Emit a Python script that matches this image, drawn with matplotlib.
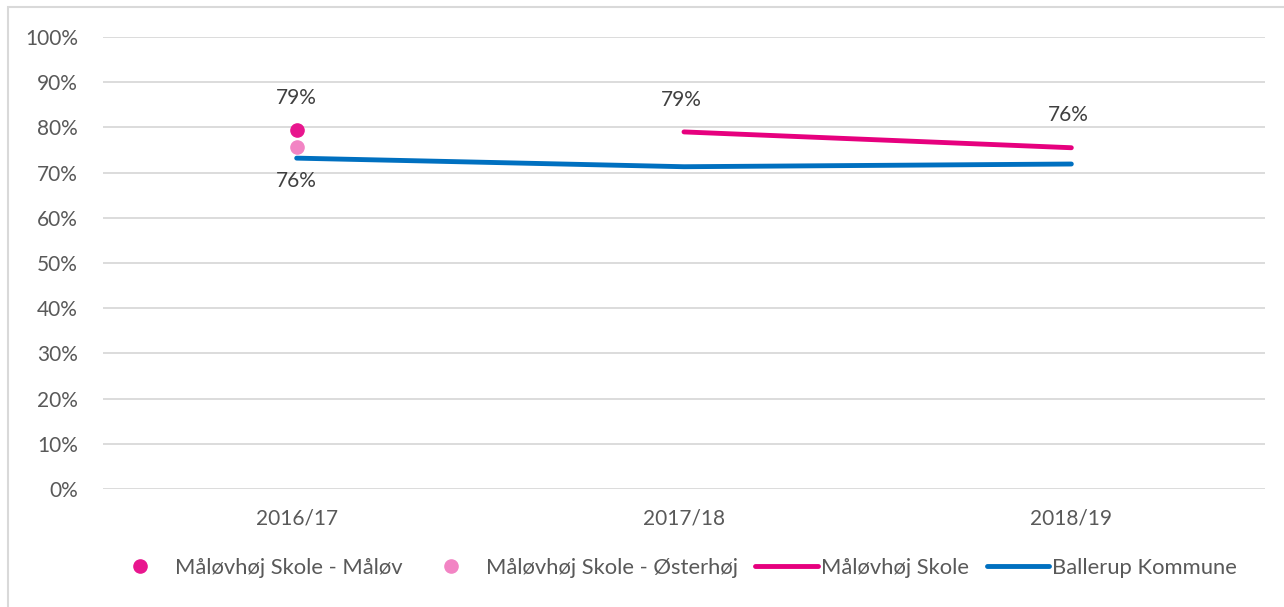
import numpy as np
import matplotlib.pyplot as plt
from matplotlib.lines import Line2D
from matplotlib.patches import Rectangle

plt.rcParams['font.family'] = ['Lato', 'DejaVu Sans']

# data
years = ['2016/17', '2017/18', '2018/19']
maalov = [0.794, np.nan, np.nan]
oesterhoej = [0.757, np.nan, np.nan]
skole = [np.nan, 0.790, 0.755]
ballerup = [0.732, 0.713, 0.719]
yticks = np.arange(0, 1.01, 0.1)

c_maalov = '#E8168E'
c_oester = '#F284C4'
c_skole = '#E6007E'
c_ballerup = '#0070C0'
txt = '#595959'

fig = plt.figure(figsize=(12.84, 6.07), dpi=100)
ax = fig.add_axes([103/1284, (607-489)/607, (1265-103)/1284, (489-37)/607])

x = np.arange(len(years))
ax.plot(x, ballerup, color=c_ballerup, lw=3.5, solid_capstyle='round', zorder=3)
ax.plot(x, skole, color=c_skole, lw=3.5, solid_capstyle='round', zorder=3)
ax.plot(x, oesterhoej, 'o', color=c_oester, ms=9.5, zorder=4)
ax.plot(x, maalov, 'o', color=c_maalov, ms=9.5, zorder=4)

# data labels
lab = dict(ha='center', va='center', fontsize=15, color='#404040',
           textcoords='offset pixels')
ax.annotate(f'{maalov[0]*100:.0f}%', (x[0], maalov[0]), xytext=(0, 32), **lab)
ax.annotate(f'{oesterhoej[0]*100:.0f}%', (x[0], oesterhoej[0]), xytext=(0, -34), **lab)
ax.annotate(f'{skole[1]*100:.0f}%', (x[1], skole[1]), xytext=(-3, 32), **lab)
ax.annotate(f'{skole[2]*100:.0f}%', (x[2], skole[2]), xytext=(-3, 33), **lab)

ax.set_xlim(-0.5, 2.5)
ax.set_ylim(0, 1)
ax.set_yticks(yticks)
ax.set_yticklabels([f'{v*100:.0f}%' for v in yticks])
ax.set_xticks(x)
ax.set_xticklabels(years)
ax.tick_params(axis='both', length=0, labelsize=15, labelcolor=txt)
ax.tick_params(axis='x', pad=14)
ax.tick_params(axis='y', pad=18)
ax.grid(axis='y', color='#D9D9D9', lw=1.3)
ax.set_axisbelow(True)
for s in ax.spines.values():
    s.set_visible(False)

handles = [
    Line2D([], [], ls='none', marker='o', color=c_maalov, ms=9.5),
    Line2D([], [], ls='none', marker='o', color=c_oester, ms=9.5),
    Line2D([], [], color=c_skole, lw=3.5, solid_capstyle='round'),
    Line2D([], [], color=c_ballerup, lw=3.5, solid_capstyle='round'),
]
names = ['Måløvhøj Skole - Måløv', 'Måløvhøj Skole - Østerhøj',
         'Måløvhøj Skole', 'Ballerup Kommune']
leg = fig.legend(handles, names, loc='center', bbox_to_anchor=(673/1284, (607-568)/607),
                 ncol=4, frameon=False, fontsize=15.8, handlelength=2.85,
                 handletextpad=0.15, columnspacing=0.8)
for t in leg.get_texts():
    t.set_color(txt)

# chart frame
fig.patches.append(Rectangle((8/1284, -0.1), 1.2, (607-7)/607 + 0.1,
                             transform=fig.transFigure, fill=False,
                             ec='#D9D9D9', lw=1.5))

fig.savefig('out.png', dpi=100)
